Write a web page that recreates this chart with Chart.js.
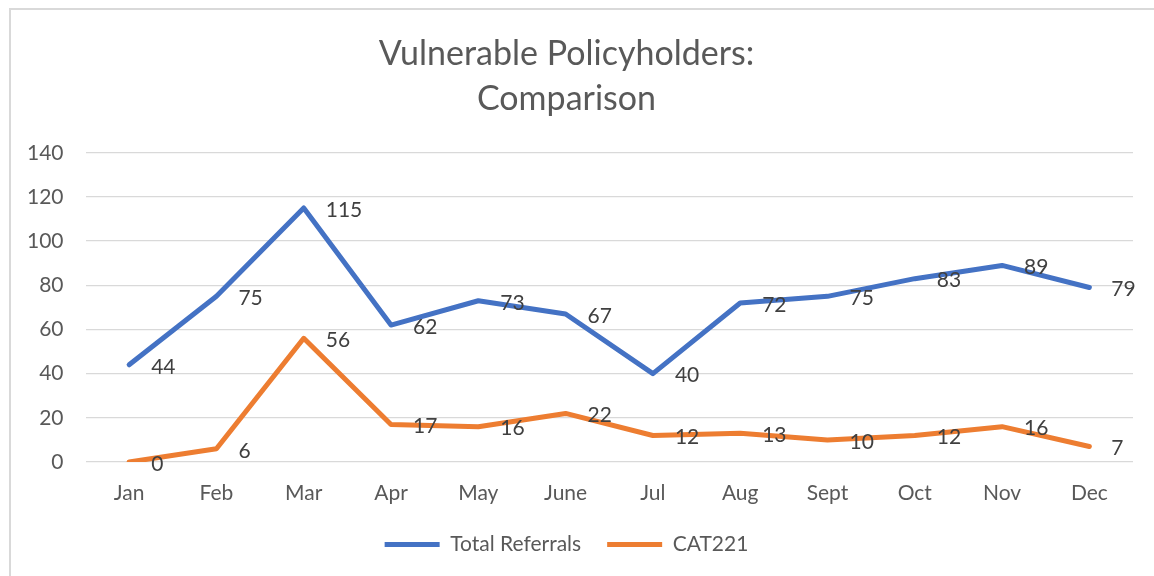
<!DOCTYPE html>
<html>
<head>
<meta charset="utf-8">
<script src="https://cdn.jsdelivr.net/npm/chart.js@4/dist/chart.umd.min.js"></script>
<style>
	html, body { margin: 0; padding: 0; background: #fff; }
	#wrap { position: relative; width: 1154px; height: 576px; overflow: hidden; }
	#frame { position: absolute; left: 9px; top: 8px; width: 1200px; height: 620px; border-left: 2px solid #d9d9d9; border-top: 2px solid #d9d9d9; }
	canvas { position: absolute; left: 0; top: 0; }
</style>
</head>
<body>
<div id="wrap">
	<div id="frame"></div>
	<canvas id="myChart" width="1154" height="576"></canvas>
</div>
<script>
var months = ["Jan", "Feb", "Mar", "Apr", "May", "June", "Jul", "Aug", "Sept", "Oct", "Nov", "Dec"];
var totalReferrals = [44, 75, 115, 62, 73, 67, 40, 72, 75, 83, 89, 79];
var cat221 = [0, 6, 56, 17, 16, 22, 12, 13, 10, 12, 16, 7];
var titleLines = ["Vulnerable Policyholders:", "Comparison"];

var fontName = "Lato";

// value labels to the right of each point (like Excel "Right" position)
var valueLabels = {
	id: "valueLabels",
	afterDatasetsDraw(chart) {
		var ctx = chart.ctx;
		ctx.save();
		ctx.font = "21px " + fontName;
		ctx.fillStyle = "#404040";
		ctx.textAlign = "left";
		ctx.textBaseline = "middle";
		chart.data.datasets.forEach((ds, i) => {
			var meta = chart.getDatasetMeta(i);
			meta.data.forEach((pt, j) => {
				ctx.fillText(String(ds.data[j]), pt.x + 22, pt.y + 2);
			});
		});
		ctx.restore();
	}
};

var ctx = document.getElementById("myChart").getContext("2d");
var myChart = new Chart(ctx, {
	type: "line",
	data: {
		labels: months,
		datasets: [{
			label: "Total Referrals",
			data: totalReferrals,
			borderColor: "#4472C4",
			backgroundColor: "#4472C4",
			borderWidth: 5,
			pointRadius: 0,
			borderCapStyle: "round",
			borderJoinStyle: "round",
			tension: 0
		}, {
			label: "CAT221",
			data: cat221,
			borderColor: "#ED7D31",
			backgroundColor: "#ED7D31",
			borderWidth: 5,
			pointRadius: 0,
			borderCapStyle: "round",
			borderJoinStyle: "round",
			tension: 0
		}]
	},
	options: {
		responsive: false,
		animation: false,
		layout: { padding: { left: 0, right: 21, top: 0, bottom: 11 } },
		plugins: {
			title: {
				display: true,
				text: titleLines,
				color: "#595959",
				font: { family: fontName, size: 34, weight: "normal", lineHeight: 1.32 },
				padding: { top: 32, bottom: 31 }
			},
			legend: {
				position: "bottom",
				labels: {
					boxWidth: 55,
					boxHeight: 5,
					padding: 26,
					color: "#595959",
					font: { family: fontName, size: 21 },
					generateLabels: chart => Chart.defaults.plugins.legend.labels.generateLabels(chart).map(l => Object.assign(l, { lineWidth: 0 }))
				}
			},
			tooltip: { enabled: false }
		},
		scales: {
			x: {
				offset: true,
				grid: { display: false, drawTicks: false },
				border: { display: false },
				ticks: { color: "#595959", font: { family: fontName, size: 21 }, padding: 19, maxRotation: 0 },
				afterFit: scale => { scale.height = 46; }
			},
			y: {
				min: 0,
				max: 140,
				ticks: { stepSize: 20, color: "#595959", font: { family: fontName, size: 21 }, padding: 22 },
				grid: { color: "#d9d9d9", lineWidth: 1.3, drawTicks: false },
				border: { display: false },
				afterFit: scale => { scale.width = 85.5; }
			}
		}
	},
	plugins: [valueLabels]
});
</script>
</body>
</html>
